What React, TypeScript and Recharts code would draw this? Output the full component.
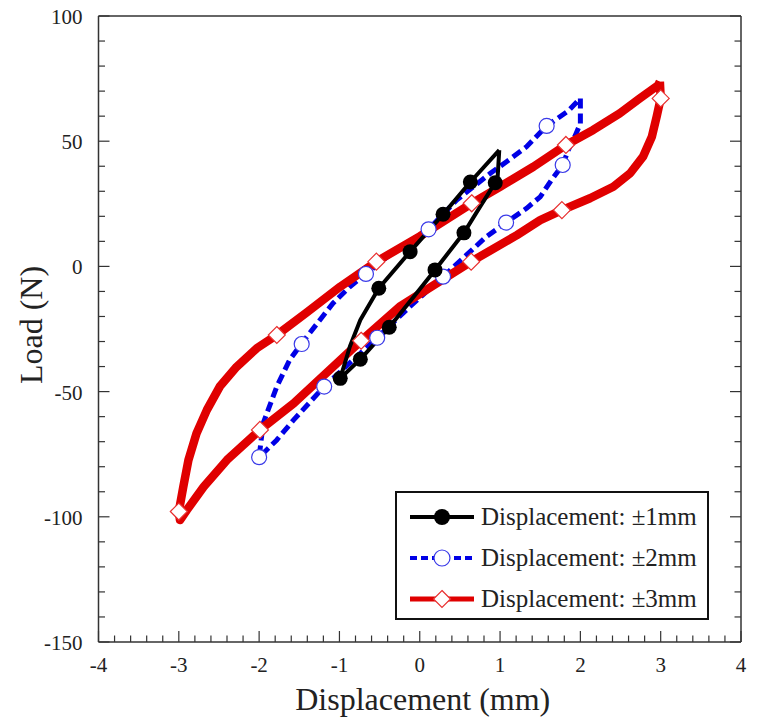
import React from "react";
import { ComposedChart, Line, Scatter, XAxis, YAxis } from "recharts";

// ±1 mm loop (black), traced in loop order
const loop1mm = [
  { x: 0.99, y: 46.4 }, { x: 0.97, y: 35.8 }, { x: 0.94, y: 33.4 }, { x: 0.75, y: 23.8 },
  { x: 0.55, y: 13.4 }, { x: 0.19, y: -1.4 }, { x: -0.04, y: -10.7 }, { x: -0.38, y: -24.3 },
  { x: -0.74, y: -37.1 }, { x: -0.99, y: -44.7 }, { x: -0.87, y: -32.0 }, { x: -0.74, y: -21.4 },
  { x: -0.51, y: -8.7 }, { x: -0.12, y: 5.9 }, { x: 0.29, y: 20.8 }, { x: 0.63, y: 33.7 },
  { x: 0.99, y: 46.4 },
];
const marks1mm = [
  { x: -0.99, y: -44.7 }, { x: -0.51, y: -8.7 }, { x: -0.12, y: 5.9 }, { x: 0.29, y: 20.8 },
  { x: 0.63, y: 33.7 }, { x: 0.94, y: 33.4 }, { x: 0.55, y: 13.4 }, { x: 0.19, y: -1.4 },
  { x: -0.38, y: -24.3 }, { x: -0.74, y: -37.1 },
];

// ±2 mm loop (blue dashed)
const loop2mm = [
  { x: 2.0, y: 67.1 }, { x: 2.0, y: 57.1 }, { x: 1.93, y: 51.8 }, { x: 1.85, y: 46.5 },
  { x: 1.78, y: 40.5 }, { x: 1.64, y: 34.5 }, { x: 1.5, y: 27.8 }, { x: 1.33, y: 23.2 },
  { x: 1.075, y: 17.5 }, { x: 0.83, y: 11.9 }, { x: 0.29, y: -4.1 }, { x: -0.12, y: -16.0 },
  { x: -0.53, y: -28.5 }, { x: -1.19, y: -48.0 }, { x: -1.57, y: -61.3 }, { x: -1.78, y: -69.3 },
  { x: -2.0, y: -76.2 }, { x: -1.95, y: -62.7 }, { x: -1.78, y: -48.0 }, { x: -1.62, y: -37.4 },
  { x: -1.47, y: -30.7 }, { x: -1.08, y: -14.7 }, { x: -0.87, y: -8.1 }, { x: -0.67, y: -3.0 },
  { x: -0.3, y: 6.5 }, { x: 0.11, y: 14.8 }, { x: 0.46, y: 26.5 }, { x: 0.88, y: 37.2 },
  { x: 1.08, y: 41.8 }, { x: 1.33, y: 47.8 }, { x: 1.58, y: 56.1 }, { x: 1.85, y: 62.1 },
  { x: 2.0, y: 67.1 },
];
const marks2mm = [
  { x: -2.0, y: -76.2 }, { x: -1.47, y: -31.0 }, { x: -0.67, y: -3.0 }, { x: 0.11, y: 14.8 },
  { x: 1.58, y: 56.1 }, { x: 1.78, y: 40.5 }, { x: 1.075, y: 17.5 }, { x: 0.29, y: -4.1 },
  { x: -0.53, y: -28.5 }, { x: -1.19, y: -48.0 },
];

// ±3 mm loop (red)
const loop3mm = [
  { x: 2.99, y: 73.8 }, { x: 3.0, y: 67.1 }, { x: 2.95, y: 59.8 }, { x: 2.89, y: 51.8 },
  { x: 2.78, y: 43.8 }, { x: 2.62, y: 37.2 }, { x: 2.41, y: 31.8 }, { x: 2.12, y: 27.2 },
  { x: 1.77, y: 22.5 }, { x: 1.5, y: 18.5 }, { x: 1.21, y: 12.5 }, { x: 0.64, y: 1.9 },
  { x: -0.25, y: -16.1 }, { x: -0.73, y: -29.7 }, { x: -0.99, y: -37.4 }, { x: -1.57, y: -54.7 },
  { x: -1.99, y: -65.3 }, { x: -2.4, y: -77.3 }, { x: -2.69, y: -88.0 }, { x: -2.9, y: -97.3 },
  { x: -2.985, y: -101.3 }, { x: -3.0, y: -97.9 }, { x: -2.944, y: -88.0 }, { x: -2.88, y: -77.3 },
  { x: -2.78, y: -66.7 }, { x: -2.65, y: -57.3 }, { x: -2.49, y: -48.0 }, { x: -2.28, y: -40.1 },
  { x: -2.03, y: -32.7 }, { x: -1.78, y: -27.4 }, { x: -1.41, y: -18.5 }, { x: -0.99, y: -8.1 },
  { x: -0.54, y: 1.9 }, { x: 0.0, y: 12.0 }, { x: 0.647, y: 25.2 }, { x: 1.0, y: 31.8 },
  { x: 1.415, y: 39.8 }, { x: 1.82, y: 48.5 }, { x: 2.16, y: 54.5 }, { x: 2.49, y: 61.1 },
  { x: 2.74, y: 67.1 }, { x: 2.97, y: 72.4 }, { x: 2.99, y: 73.8 },
];
const marks3mm = [
  { x: -1.78, y: -27.4 }, { x: -0.54, y: 1.9 }, { x: 0.647, y: 25.2 }, { x: 1.82, y: 48.5 },
  { x: 3.0, y: 67.1 }, { x: 1.77, y: 22.5 }, { x: 0.64, y: 1.9 }, { x: -0.73, y: -29.7 },
  { x: -1.99, y: -65.3 }, { x: -3.0, y: -97.9 },
];

const xMajor = [-4, -3, -2, -1, 0, 1, 2, 3, 4];
const yMajor = [-150, -100, -50, 0, 50, 100];
const xTicks = Array.from({ length: 41 }, (_, i) => Math.round((-4 + i * 0.2) * 10) / 10);
const yTicks = Array.from({ length: 26 }, (_, i) => -150 + i * 10);

const legendItems = [
  { label: "Displacement: \u00b11mm", color: "#000", dash: undefined, width: 4, marker: "dot" },
  { label: "Displacement: \u00b12mm", color: "#0000e6", dash: "7 4", width: 4, marker: "circle" },
  { label: "Displacement: \u00b13mm", color: "#e00000", dash: undefined, width: 5, marker: "diamond" },
];

const FONT = "'Liberation Serif', 'Times New Roman', serif";
const AXIS = "#333";

const isMajorX = (v: number) => xMajor.some((m) => Math.abs(m - v) < 1e-6);
const isMajorY = (v: number) => yMajor.includes(v);

const BottomTick = ({ x, y, payload }: any) => {
  const major = isMajorX(payload.value);
  return (
    <g>
      <line x1={x} x2={x} y1={y} y2={y - (major ? 11 : 6.5)} stroke={AXIS} strokeWidth={1.2} />
      {major && (
        <text x={x} y={y + 30} textAnchor="middle" fontSize={21} fontFamily={FONT} fill="#222">
          {payload.value}
        </text>
      )}
    </g>
  );
};

const TopTick = ({ x, y, payload }: any) => {
  const major = isMajorX(payload.value);
  return <line x1={x} x2={x} y1={y} y2={y + (major ? 11 : 6.5)} stroke={AXIS} strokeWidth={1.2} />;
};

const LeftTick = ({ x, y, payload }: any) => {
  const major = isMajorY(payload.value);
  return (
    <g>
      <line x1={x} x2={x + (major ? 11 : 6.5)} y1={y} y2={y} stroke={AXIS} strokeWidth={1.2} />
      {major && (
        <text x={x - 16} y={y + 8} textAnchor="end" fontSize={21} fontFamily={FONT} fill="#222">
          {payload.value}
        </text>
      )}
    </g>
  );
};

const RightTick = ({ x, y, payload }: any) => {
  const major = isMajorY(payload.value);
  return <line x1={x} x2={x - (major ? 11 : 6.5)} y1={y} y2={y} stroke={AXIS} strokeWidth={1.2} />;
};

const XTitle = ({ viewBox }: any) => (
  <text x={viewBox.x + viewBox.width / 2 + 3} y={viewBox.y + 68} textAnchor="middle" fontSize={32} fontFamily={FONT} fill="#222">
    Displacement (mm)
  </text>
);

const YTitle = ({ viewBox }: any) => {
  const cx = viewBox.x + 3.5;
  const cy = viewBox.y + viewBox.height / 2 - 4;
  return (
    <text x={cx} y={cy} transform={`rotate(-90, ${cx}, ${cy})`} textAnchor="middle" fontSize={32} fontFamily={FONT} fill="#222">
      Load (N)
    </text>
  );
};

const Dot = ({ cx, cy }: any) => <circle cx={cx} cy={cy} r={7.5} fill="#000" />;
const OpenCircle = ({ cx, cy }: any) => <circle cx={cx} cy={cy} r={7.5} fill="#fff" stroke="#3a3ae8" strokeWidth={1.2} />;
const Diamond = ({ cx, cy }: any) => (
  <path d={`M${cx},${cy - 8.5}L${cx + 8.5},${cy}L${cx},${cy + 8.5}L${cx - 8.5},${cy}Z`} fill="#fff" stroke="#e83030" strokeWidth={1.2} />
);

function LegendIcon({ item }: any) {
  return (
    <svg width={66} height={20} style={{ display: "block" }}>
      <line x1={1} x2={65} y1={10} y2={10} stroke={item.color} strokeWidth={item.width} strokeDasharray={item.dash} />
      {item.marker === "dot" && <circle cx={33} cy={10} r={8} fill="#000" />}
      {item.marker === "circle" && <circle cx={33} cy={10} r={8} fill="#fff" stroke="#3a3ae8" strokeWidth={1.2} />}
      {item.marker === "diamond" && <path d="M33,1.5L41.5,10L33,18.5L24.5,10Z" fill="#fff" stroke="#e83030" strokeWidth={1.2} />}
    </svg>
  );
}

export default function App() {
  return (
    <div style={{ position: "absolute", left: 0, top: 0, width: 761, height: 723, background: "#fff" }}>
      <ComposedChart width={761} height={723} margin={{ top: 15, right: 19, bottom: 21, left: 38.5 }}>
        <XAxis
          type="number" dataKey="x" domain={[-4, 4]} ticks={xTicks} interval={0} allowDataOverflow
          height={60} tickSize={0} tickMargin={0} tickLine={false} tick={<BottomTick />}
          axisLine={{ stroke: AXIS, strokeWidth: 1.5 }} label={<XTitle />}
        />
        <XAxis
          xAxisId="top" orientation="top" type="number" domain={[-4, 4]} ticks={xTicks} interval={0} allowDataOverflow
          height={1} tickSize={0} tickMargin={0} tickLine={false} tick={<TopTick />}
          axisLine={{ stroke: AXIS, strokeWidth: 1.5 }}
        />
        <YAxis
          type="number" dataKey="y" domain={[-150, 100]} ticks={yTicks} interval={0} allowDataOverflow
          width={60} tickSize={0} tickMargin={0} tickLine={false} tick={<LeftTick />}
          axisLine={{ stroke: AXIS, strokeWidth: 1.5 }} label={<YTitle />}
        />
        <YAxis
          yAxisId="right" orientation="right" type="number" domain={[-150, 100]} ticks={yTicks} interval={0} allowDataOverflow
          width={1} tickSize={0} tickMargin={0} tickLine={false} tick={<RightTick />}
          axisLine={{ stroke: AXIS, strokeWidth: 1.5 }}
        />
        <Line data={loop2mm} dataKey="y" type="linear" stroke="#0000e6" strokeWidth={5} strokeDasharray="10 5"
          dot={false} activeDot={false} isAnimationActive={false} />
        <Line data={loop3mm} dataKey="y" type="linear" stroke="#e00000" strokeWidth={8.5} strokeLinejoin="round"
          dot={false} activeDot={false} isAnimationActive={false} />
        <Line data={loop1mm} dataKey="y" type="linear" stroke="#000" strokeWidth={4} strokeLinejoin="round"
          dot={false} activeDot={false} isAnimationActive={false} />
        <Scatter data={marks3mm} shape={<Diamond />} isAnimationActive={false} />
        <Scatter data={marks2mm} shape={<OpenCircle />} isAnimationActive={false} />
        <Scatter data={marks1mm} shape={<Dot />} isAnimationActive={false} />
      </ComposedChart>
      <div
        style={{
          position: "absolute", left: 395, top: 491, width: 310, height: 125,
          border: "2px solid #111", background: "#fff", fontFamily: FONT, fontSize: 25, color: "#222",
        }}
      >
        {legendItems.map((item, i) => (
          <div key={i} style={{ position: "absolute", left: 12, top: 12 + i * 41, height: 24, display: "flex", alignItems: "center" }}>
            <LegendIcon item={item} />
            <span style={{ marginLeft: 6, whiteSpace: "nowrap", lineHeight: "24px" }}>{item.label}</span>
          </div>
        ))}
      </div>
    </div>
  );
}
